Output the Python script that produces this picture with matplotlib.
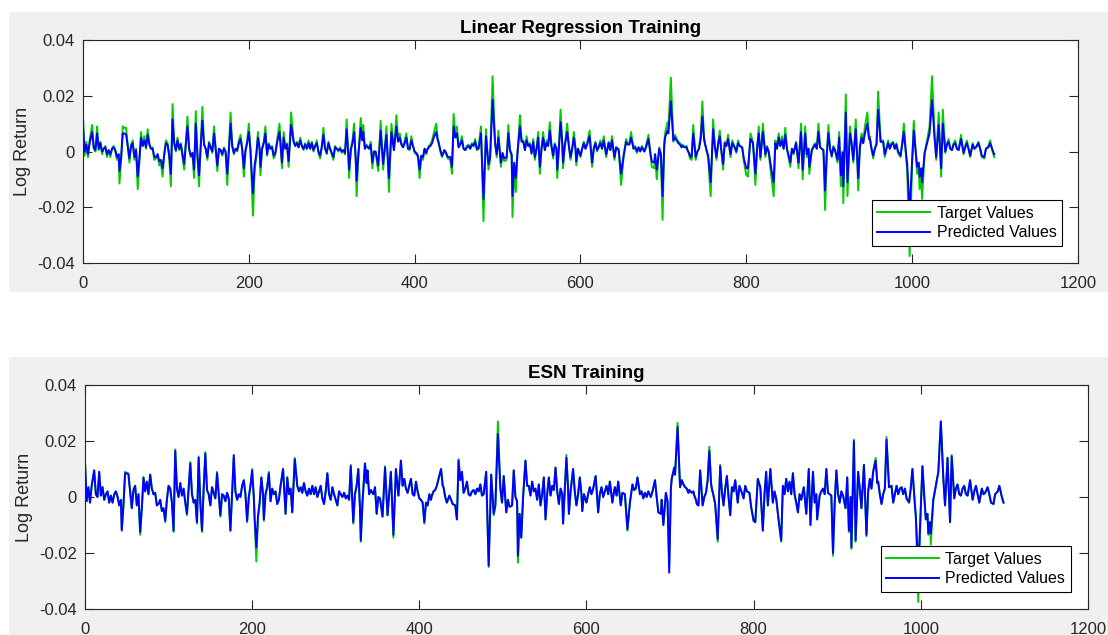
import numpy as np
import matplotlib as mpl
mpl.use('Agg')
import matplotlib.pyplot as plt
from matplotlib.patches import Rectangle

plt.rcParams['font.family'] = ['Liberation Sans', 'DejaVu Sans']

# Sample index of each reading (training window, ~1100 samples)
sample_idx = [
    0, 2, 4, 6, 8, 11, 13, 15, 17, 19,
    21, 23, 25, 27, 29, 31, 33, 35, 37, 39,
    41, 43, 44, 46, 48, 50, 52, 54, 56, 58,
    60, 62, 64, 66, 68, 70, 72, 74, 76, 78,
    80, 82, 84, 86, 88, 90, 92, 94, 96, 98,
    100, 102, 104, 106, 108, 110, 112, 114, 116, 118,
    120, 122, 124, 126, 128, 130, 132, 134, 136, 138,
    140, 142, 144, 146, 148, 150, 152, 154, 156, 158,
    160, 162, 164, 166, 168, 170, 172, 174, 176, 178,
    180, 182, 184, 186, 188, 190, 192, 194, 196, 198,
    200, 202, 203, 205, 207, 209, 211, 213, 214, 216,
    218, 220, 222, 224, 226, 228, 230, 232, 234, 237,
    240, 242, 244, 246, 248, 251, 254, 256, 258, 260,
    262, 264, 266, 268, 270, 272, 274, 276, 278, 280,
    282, 284, 286, 288, 290, 292, 294, 296, 298, 300,
    302, 304, 306, 308, 310, 312, 314, 316, 318, 320,
    321, 323, 325, 327, 329, 330, 332, 335, 337, 338,
    340, 342, 345, 347, 349, 351, 353, 356, 359, 362,
    364, 366, 369, 372, 375, 378, 380, 382, 384, 386,
    388, 390, 392, 394, 396, 398, 400, 402, 404, 406,
    408, 410, 412, 414, 415, 417, 419, 421, 423, 426,
    428, 429, 431, 433, 436, 438, 440, 443, 445, 447,
    449, 451, 453, 455, 457, 459, 461, 463, 465, 467,
    469, 471, 473, 475, 477, 480, 483, 486, 489, 491,
    494, 497, 499, 501, 504, 506, 508, 511, 513, 515,
    517, 518, 520, 522, 524, 527, 529, 531, 533, 535,
    537, 539, 541, 543, 545, 547, 549, 551, 553, 555,
    557, 559, 561, 563, 565, 567, 569, 571, 572, 574,
    576, 578, 579, 581, 584, 586, 588, 590, 592, 594,
    595, 597, 600, 602, 604, 606, 608, 611, 614, 616,
    618, 620, 622, 624, 626, 628, 631, 633, 634, 636,
    638, 641, 643, 646, 649, 652, 655, 657, 659, 661,
    664, 666, 668, 670, 672, 674, 677, 679, 682, 684,
    686, 689, 690, 692, 695, 697, 699, 701, 702, 705,
    706, 709, 712, 714, 716, 718, 720, 722, 723, 726,
    728, 729, 731, 732, 734, 736, 738, 739, 741, 743,
    745, 747, 749, 750, 752, 754, 757, 760, 762, 764,
    766, 768, 770, 772, 774, 776, 778, 781, 783, 786,
    788, 790, 792, 795, 797, 800, 802, 805, 808, 811,
    813, 815, 817, 820, 823, 825, 827, 830, 833, 835,
    837, 839, 841, 843, 845, 847, 849, 851, 853, 855,
    857, 860, 863, 866, 868, 871, 873, 875, 876, 879,
    881, 883, 885, 887, 889, 891, 893, 895, 897, 899,
    901, 903, 905, 907, 910, 912, 914, 916, 917, 920,
    922, 925, 927, 929, 932, 935, 937, 939, 941, 943,
    946, 948, 949, 951, 953, 955, 957, 959, 962, 965,
    967, 969, 971, 973, 975, 977, 979, 981, 983, 986,
    988, 990, 993, 994, 997, 1000, 1002, 1004, 1006, 1008,
    1009, 1011, 1012, 1015, 1018, 1021, 1024, 1027, 1029, 1032,
    1035, 1037, 1040, 1042, 1044, 1046, 1048, 1050, 1052, 1054,
    1056, 1059, 1062, 1064, 1066, 1068, 1070, 1073, 1075, 1077,
    1080, 1082, 1084, 1087, 1089, 1092, 1094, 1097, 1099,
]

# Log returns, in units of 1e-3
target_vals = [
    13, -1.5, 3.5, -2, 4, 9.5, 1, 0, 9, 0.5,
    3.5, -1, 1, 2, -2, 0.5, -2, 1, 2, 0,
    -3, -1, -11.5, -3, 9, 8.5, 8.5, 2, -4, 2.5,
    4, -3, 1, -13.5, -4, 7, 2, 5.5, 1, 8,
    3, 1, 1.5, -3, -2.5, -1, -5, -4, -9, -1,
    4, 3, -2, -12.5, 17, 3, 0, 5, 0.5, 3,
    -2, -6.5, 3, 12.5, 1, -2, -1, -9.5, 14.5, -2,
    -12.5, 3, 16, 2.5, 1, -3, 3.5, 1.5, -0.5, 9,
    1, -7, 1, 0.5, -1.5, 1.5, -0.5, -12, 1, 14,
    2, -1, 1, 0, 4, 6, 1, -9, 0, 4,
    10, 0, -8, -23, -7, -2, 7, 1, -8.5, 1,
    3.5, 9, -1.5, 3, 1, 2, -2.5, -1, 4, 10,
    -6, 7, 1, 3, -5.5, 14, 4, 2, 3.5, 1.5,
    5, 2, 0.5, 3, 1, 4, 1, 3.5, 0, 2,
    4, -0.5, -2.5, 2, 8.5, 1, -1, 3.5, 1, -1,
    -3, 2, 1, 0, 1.5, -0.5, 0.5, -1, 11.5, -2,
    -9.5, 1, 4, 10, -4, -16, -2, 12, 5, 9.5,
    1, 2.5, 1, 3.5, -6, 0, -0.5, -7, 11, -6.5,
    1, 9, -14.5, 10, 0.5, 13, 4, 6.5, 3, 1.5,
    4, 6.5, 1, 0.5, 5.5, 2, -0.5, -1, -2, -9.5,
    -2, -3, 1, -1, 0.5, 2, 2.5, 4, 6.5, 10,
    4, 3.5, 0, -2, 0.5, -1, -2.5, -3, -8, 13.5,
    6, 9, 1.5, 3, 5.5, 1, 0.5, 2, 2.5, 1,
    3, 2, 4.5, 0.5, 1, 9, -25, 8, -6.5, -3,
    27, 3, -2, 7.5, -5.5, -1, -3.5, -3, 9.5, 0,
    -1.5, -23.5, -6, -14.5, -1, 13, 4, 4, 0.5, 5.5,
    2, 3, -1, 4.5, -3, 1, 7, -8, 1, 7,
    0.5, 4, 2.5, 10.5, 2, -2.5, 3, 1, -9.5, 2,
    15, 3, -6, 2, 10, 2, -3, 1, 7, 1,
    -5, 1, -2, 1, 3.5, 1, 3, 7.5, -5.5, 1,
    3.5, 0, 2, 4, 1, 5.5, -2, 2, 3.5, 0.5,
    5.5, -3, 1.5, 1, -12, -2, 4.5, 2.5, 3, 7,
    1, 2, -0.5, 1.5, 0, 2, 0, 2, 6, 0,
    -5.5, -6, -1, -10, 1.5, -1.5, -24.5, 3, 6.5, 10.5,
    8, 26.5, 3.5, 6, 4.5, 3.5, 3, 1.5, 2.5, 1.5,
    2, 0.5, -1, -2.5, -3, 9.5, 1, -3, 0, 1.5,
    6, 18, 5, 3, 0.5, -2.5, -16, 11.5, 2, -3,
    3, 7.5, 0, -6.5, 3.5, 2, 6, -2, 4, 1.5,
    -0.5, 4, 2, 1.5, -3.5, -8.5, -9, 6.5, 3.5, -12,
    1, 9, -3, 10, -2, 2, -0.5, -8.5, -16, 4,
    1, 6.5, 2, 5.5, 1, 8.5, 1, -2, -5.5, 1,
    -1, 3.5, -6, 10, -10, 9, -2, 1, -8, 0.5,
    2, 3, 1, 10, 1.5, 1, 0.5, -21, -2, 9.5,
    1, -2, 2, 0.5, -4, 7, -12.5, 0, -18.5, 20.5,
    -16, 9, 3, -4, 11.5, -14, 2, 6.5, 3, 9,
    14, 5, 5.5, 1, -2.5, 1, 3, 21.5, 3.5, 4,
    -2, 1, 4, 1, 3, 3.5, 1, 3, -0.5, -2,
    3, 10, -3, -6.5, -37.5, -4, 11, 1, -8, -6,
    -13.5, -9, -17, -1, 4, 9, 27, 6.5, -3, 14,
    -9, 15, -0.5, 3, 4.5, 1, 0.5, 3, 4, 1,
    0.5, 6, -1, 2, 4, 1, -2, 3, 1, 1.5,
    3.5, 1, -2, -2.5, 1, 2, 4, 0, -2,
]

linreg_pred = [
    9, 0, 2.5, -1, 3, 7, 1.5, 0.5, 6.5, 1,
    3, 0, 1, 1.5, -1, 0.5, -1, 1, 1.5, 0.5,
    -2, -1, -7, -2, 6.5, 6.5, 6, 2, -2.5, 2,
    3, -2, 0.5, -9, -2.5, 5, 2, 4, 1.5, 6,
    2.5, 1, 1, -2, -2, -1, -3.5, -3, -6, -1,
    3, 2.5, -1.5, -8, 11.5, 3, 0.5, 4, 1, 2.5,
    -1, -4.5, 2.5, 9, 1, -1.5, -0.5, -6.5, 10, -1,
    -8.5, 2, 11, 2.5, 1, -2, 3, 1.5, 0, 6.5,
    1, -5, 1, 0.5, -1, 1, 0, -8, 1, 10,
    2, -0.5, 1, 0.5, 3, 4.5, 1, -6, 0.5, 3,
    7, 0.5, -5, -15, -5, -1, 5, 1, -5.5, 1,
    3, 6.5, -1, 2.5, 1, 1.5, -1.5, -0.5, 3, 7,
    -4, 5, 1, 2.5, -3.5, 9.5, 3.5, 2, 3, 1.5,
    4, 2, 1, 2.5, 1, 3, 1, 3, 0.5, 2,
    3, 0, -1.5, 1.5, 6, 1, -0.5, 3, 1, -0.5,
    -2, 1.5, 1, 0.5, 1, 0, 0.5, -0.5, 8, -1,
    -6.5, 0.5, 3, 7, -3, -10.5, -1.5, 8.5, 4, 7,
    1, 2, 1, 2.5, -4, 0, 0, -5, 7.5, -4.5,
    1, 6, -9.5, 7, 0.5, 9, 3.5, 5, 2.5, 1.5,
    3, 5, 1, 1, 4, 2, 0, -0.5, -1.5, -6.5,
    -1.5, -2, 1, -0.5, 0.5, 1.5, 2, 3, 5, 7,
    4, 3, 0.5, -1.5, 0.5, -0.5, -2, -2, -5.5, 9,
    5, 6.5, 1.5, 2.5, 4, 1, 0.5, 1.5, 2, 1,
    2.5, 2, 3.5, 1, 1, 6.5, -17, 5.5, -4.5, -2,
    18.5, 3, -1, 5, -4, -0.5, -2.5, -2, 6.5, 0.5,
    -1, -16, -4, -9.5, -0.5, 9, 3.5, 3.5, 0.5, 4,
    2, 2.5, -0.5, 3.5, -2, 1, 5, -5.5, 1, 5,
    0.5, 3, 2, 7.5, 2, -1.5, 2.5, 1, -6.5, 1.5,
    10.5, 3, -4, 2, 7, 2, -2, 1, 5, 1,
    -3.5, 1, -1.5, 1, 3, 1, 2.5, 5.5, -4, 1,
    3, 0.5, 1.5, 3, 1, 4, -1, 1.5, 3, 0.5,
    4, -2, 1.5, 0.5, -8, -1.5, 3.5, 2.5, 2.5, 5,
    1, 1.5, 0, 1.5, 0, 1.5, 0, 1.5, 4.5, 0,
    -3.5, -4, -1, -6.5, 1, -1, -16, 2, 5, 7.5,
    6.5, 18, 4, 5, 4, 3, 2.5, 1.5, 2, 1.5,
    1.5, 0.5, -0.5, -1.5, -2, 6.5, 1, -2, 0, 1,
    4.5, 12.5, 4.5, 3, 0.5, -1.5, -11, 8, 2, -2,
    2.5, 5.5, 0, -4.5, 3, 2, 4.5, -1, 3, 1.5,
    0, 3, 2, 1.5, -2.5, -6, -6, 4.5, 3, -8,
    1, 6.5, -2, 7, -1, 1.5, 0, -6, -11, 3,
    1, 5, 2, 4, 1, 6, 1, -1.5, -4, 1,
    -0.5, 3, -4, 7, -6.5, 6.5, -1, 1, -5.5, 0.5,
    1.5, 2.5, 1, 7, 1.5, 1, 0.5, -14, -1, 6.5,
    1, -1.5, 1.5, 0.5, -3, 5, -8.5, -0.5, -12.5, 14,
    -11, 6.5, 3, -3, 8, -9.5, 1.5, 5, 3, 6.5,
    10, 4.5, 4.5, 1, -1.5, 1, 2.5, 15, 3.5, 3.5,
    -1, 1, 3, 1, 2.5, 3, 1, 2.5, 0, -1.5,
    2.5, 7, -2, -4.5, -22, -3, 7.5, 1, -5.5, -4,
    -9, -6, -11, -0.5, 3, 6.5, 18.5, 5, -2, 9.5,
    -6, 10, 0, 2.5, 3.5, 1, 0.5, 2.5, 3, 1,
    0.5, 4.5, -0.5, 1.5, 3, 1, -1.5, 2.5, 1, 1.5,
    3, 1, -1.5, -2, 1, 1.5, 3, 0.5, -1,
]

esn_pred = [
    12.5, -1.5, 3.5, -2, 4, 9.5, 1, 0, 9, 0.5,
    3.5, -1, 1, 2, -2, 0.5, -2, 1, 2, 0,
    -3, -1, -12, -3, 8.5, 8.5, 8, 2, -4, 2.5,
    4, -3, 1, -12.5, -4, 7, 2, 5.5, 1, 8,
    3, 1, 1.5, -3, -2.5, -1, -5, -4, -8.5, -1,
    4, 3, -2, -12, 16.5, 3, 0, 5, 0.5, 3,
    -2, -6, 3, 12, 1, -2, -1, -9, 14, -2,
    -12, 3, 15.5, 2.5, 1, -3, 3.5, 1.5, -0.5, 8.5,
    1, -6.5, 1, 0.5, -1.5, 1.5, -0.5, -12, 1, 15,
    2, -1, 1, 0, 4, 6, 1, -8.5, 0, 4,
    9.5, 0, -8, -18, -7, -2, 7, 1, -8, 1,
    3.5, 8.5, -1.5, 3, 1, 2, -2.5, -1, 4, 10,
    -6, 7, 1, 3, -5.5, 13.5, 4, 2, 3.5, 1.5,
    5, 2, 0.5, 3, 1, 4, 1, 3.5, 0, 2,
    4, -0.5, -2.5, 2, 8.5, 1, -1, 3.5, 1, -1,
    -3, 2, 1, 0, 1.5, -0.5, 0.5, -1, 11, -2,
    -9, 1, 4, 10, -4, -15.5, -2, 12, 5, 9.5,
    1, 2.5, 1, 3.5, -6, 0, -0.5, -7, 10.5, -6.5,
    1, 9, -13.5, 10, 0.5, 13, 4, 6.5, 3, 1.5,
    4, 6.5, 1, 0.5, 5.5, 2, -0.5, -1, -2, -9,
    -2, -3, 1, -1, 0.5, 2, 2.5, 4, 6.5, 10,
    4, 3.5, 0, -2, 0.5, -1, -2.5, -3, -8, 13,
    6, 9, 1.5, 3, 5.5, 1, 0.5, 2, 2.5, 1,
    3, 2, 4.5, 0.5, 1, 9, -24.5, 8, -6, -3,
    22.5, 3, -2, 7.5, -5.5, -1, -3.5, -3, 9.5, 0,
    -1.5, -21, -6, -14.5, -1, 13, 4, 4, 0.5, 5.5,
    2, 3, -1, 4.5, -3, 1, 7, -8, 1, 7,
    0.5, 4, 2.5, 10.5, 2, -2.5, 3, 1, -9.5, 2,
    14, 3, -6, 2, 10, 2, -3, 1, 7, 1,
    -5, 1, -2, 1, 3.5, 1, 3, 7.5, -5.5, 1,
    3.5, 0, 2, 4, 1, 5.5, -2, 2, 3.5, 0.5,
    5.5, -3, 1.5, 1, -11.5, -2, 4.5, 2.5, 3, 7,
    1, 2, -0.5, 1.5, 0, 2, 0, 2, 6, 0,
    -5.5, -6, -1, -10, 1.5, -1.5, -27, 3, 6.5, 10.5,
    8, 25, 3.5, 6, 4.5, 3.5, 3, 1.5, 2.5, 1.5,
    2, 0.5, -1, -2.5, -3, 9.5, 1, -3, 0, 1.5,
    6, 16.5, 5, 3, 0.5, -2.5, -15, 11, 2, -3,
    3, 7.5, 0, -6.5, 3.5, 2, 6, -2, 4, 1.5,
    -0.5, 4, 2, 1.5, -3.5, -8.5, -9, 6.5, 3.5, -12,
    1, 9, -3, 10, -2, 2, -0.5, -8.5, -15.5, 4,
    1, 6.5, 2, 5.5, 1, 8.5, 1, -2, -5.5, 1,
    -1, 3.5, -6, 10, -10, 9, -2, 1, -8, 0.5,
    2, 3, 1, 10, 1.5, 1, 0.5, -20, -2, 9.5,
    1, -2, 2, 0.5, -4, 7, -12, 0, -18, 20,
    -15.5, 9, 3, -4, 11.5, -13.5, 2, 6.5, 3, 9,
    13, 5, 5.5, 1, -2.5, 1, 3, 20.5, 3.5, 4,
    -2, 1, 4, 1, 3, 3.5, 1, 3, -0.5, -2,
    3, 10, -3, -6.5, -26, -4, 11, 1, -8, -6,
    -13, -9, -13, -1, 4, 9, 27, 6.5, -3, 14,
    -9, 14.5, -0.5, 3, 4.5, 1, 0.5, 3, 4, 1,
    0.5, 6, -1, 2, 4, 1, -2, 3, 1, 1.5,
    3.5, 1, -2, -2.5, 1, 2, 4, 0, -2,
]

x_ticks = [0, 200, 400, 600, 800, 1000, 1200]
y_ticks = [-0.04, -0.02, 0, 0.02, 0.04]
y_tick_labels = ['-0.04', '-0.02', '0', '0.02', '0.04']

x = np.array(sample_idx)
target = np.array(target_vals) / 1000
lr = np.array(linreg_pred) / 1000
esn = np.array(esn_pred) / 1000

GREEN = '#00cc00'
BLUE = '#0000ff'
TXT = '#262626'
PANEL = '#f0f0f0'

fig = plt.figure(figsize=(11.08, 6.35), dpi=100)

# grey panel behind each subplot
fig.patches.append(Rectangle((0.008, 0.540), 0.992, 0.441, transform=fig.transFigure,
                             facecolor=PANEL, edgecolor='none', zorder=-10))
fig.patches.append(Rectangle((0.008, 0.0), 0.992, 0.438, transform=fig.transFigure,
                             facecolor=PANEL, edgecolor='none', zorder=-10))

ax1 = fig.add_axes([0.0749, 0.5858, 0.898, 0.3512])
ax2 = fig.add_axes([0.0767, 0.0409, 0.9052, 0.3528])


def style_axes(ax, title, leg_anchor):
    ax.set_facecolor('white')
    ax.set_xlim(0, 1200)
    ax.set_ylim(-0.04, 0.04)
    ax.set_xticks(x_ticks)
    ax.set_xticklabels([str(t) for t in x_ticks])
    ax.set_yticks(y_ticks)
    ax.set_yticklabels(y_tick_labels)
    ax.tick_params(direction='in', length=6.5, width=0.8, color=TXT,
                   labelcolor=TXT, labelsize=12, top=True, right=True)
    ax.tick_params(axis='x', pad=9)
    ax.tick_params(axis='y', pad=6)
    for s in ax.spines.values():
        s.set_color(TXT)
        s.set_linewidth(0.8)
    ax.set_title(title, fontsize=13.5, fontweight='bold', color='black', pad=5)
    ax.set_ylabel('Log Return', fontsize=13, color=TXT)
    ax.yaxis.set_label_coords(-0.052, 0.5)
    leg = ax.legend(loc='lower right', bbox_to_anchor=leg_anchor, borderaxespad=0,
                    fontsize=11.5, fancybox=False, framealpha=1, edgecolor='black',
                    handlelength=3.3, handletextpad=0.4, borderpad=0.35,
                    labelspacing=0.3)
    leg.get_frame().set_linewidth(0.8)


ax1.plot(x, target, color=GREEN, lw=1.4, label='Target Values')
ax1.plot(x, lr, color=BLUE, lw=1.4, label='Predicted Values')
style_axes(ax1, 'Linear Regression Training', (0.984, 0.076))

ax2.plot(x, target, color=GREEN, lw=1.4, label='Target Values')
ax2.plot(x, esn, color=BLUE, lw=1.4, label='Predicted Values')
style_axes(ax2, 'ESN Training', (0.983, 0.076))

fig.savefig('out.png', dpi=100)
